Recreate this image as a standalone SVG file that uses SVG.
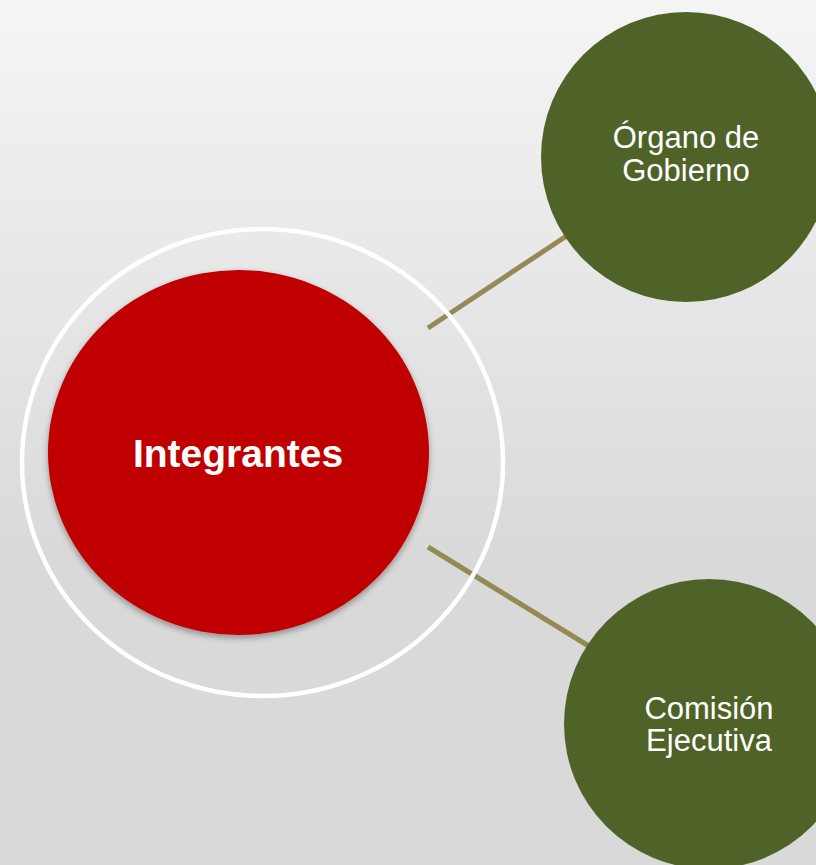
<svg xmlns="http://www.w3.org/2000/svg" width="816" height="865" viewBox="0 0 816 865">
  <defs>
    <linearGradient id="bg" x1="0" y1="0" x2="0" y2="1">
      <stop offset="0" stop-color="#f5f5f5"/>
      <stop offset="0.65" stop-color="#d9d9d9"/>
      <stop offset="1" stop-color="#d9d9d9"/>
    </linearGradient>
    <filter id="shadow" x="-10%" y="-10%" width="120%" height="125%">
      <feDropShadow dx="0" dy="3" stdDeviation="3" flood-color="#000" flood-opacity="0.35"/>
    </filter>
  </defs>
  <style>
    .conn { stroke: #948a54; stroke-width: 5; fill: none; }
    .leaf { fill: #4f6228; }
    .leafText { font-family: "Liberation Sans", Arial, sans-serif; font-size: 31px; fill: #ffffff; text-anchor: middle; }
    .hubText { font-family: "Liberation Sans", Arial, sans-serif; font-size: 39px; font-weight: bold; fill: #ffffff; text-anchor: middle; }
  </style>
  <rect x="0" y="0" width="816" height="865" fill="url(#bg)"/>
  <g id="connectors">
    <line class="conn" x1="428" y1="328" x2="580" y2="227"/>
    <line class="conn" x1="428" y1="547" x2="600" y2="653"/>
  </g>
  <g id="ring">
    <ellipse cx="262.5" cy="462.5" rx="240.5" ry="233.5" fill="none" stroke="#ffffff" stroke-width="4.5"/>
  </g>
  <g id="integrantes">
    <ellipse cx="238.5" cy="452.5" rx="190.5" ry="182.5" fill="#c00000" filter="url(#shadow)"/>
    <text class="hubText" x="238" y="467">Integrantes</text>
  </g>
  <g id="organo">
    <circle class="leaf" cx="686" cy="157" r="145"/>
    <text class="leafText" x="686" y="148">Órgano de</text>
    <text class="leafText" x="686" y="181">Gobierno</text>
  </g>
  <g id="comision">
    <circle class="leaf" cx="709" cy="724" r="145"/>
    <text class="leafText" x="709" y="719">Comisión</text>
    <text class="leafText" x="709" y="751">Ejecutiva</text>
  </g>
</svg>
